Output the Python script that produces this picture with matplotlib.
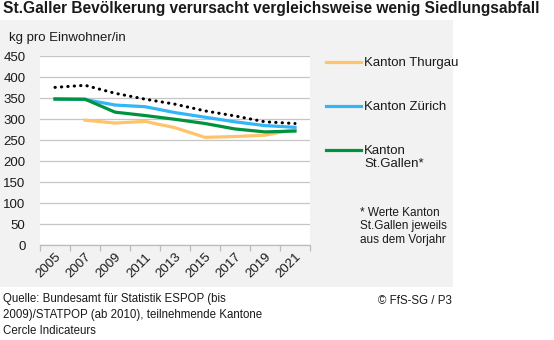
import matplotlib
matplotlib.use("Agg")
import matplotlib.pyplot as plt
from matplotlib.patches import Rectangle

plt.rcParams['font.family'] = ['Liberation Sans', 'DejaVu Sans']

years = [2005, 2007, 2009, 2011, 2013, 2015, 2017, 2019, 2021]
years_tg = [2007, 2009, 2011, 2013, 2015, 2017, 2019, 2021]
thurgau = [298, 291, 295, 280, 257, 259, 262, 276]
zuerich = [349, 347, 334, 330, 316, 305, 294, 285, 281]
stgallen = [348, 348, 317, 309, 300, 290, 277, 270, 272]
average = [376, 381, 362, 348, 336, 320, 308, 294, 290]

yticks = [0, 50, 100, 150, 200, 250, 300, 350, 400, 450]
xlabels = [2005, 2007, 2009, 2011, 2013, 2015, 2017, 2019, 2021]
major_ticks = [2004, 2006, 2008, 2010, 2012, 2014, 2016, 2018, 2020, 2022]

W, H = 554, 340
fig = plt.figure(figsize=(W / 100, H / 100), dpi=100)
fig.patch.set_facecolor('white')

def fx(x):
    return x / W

def fy(y):
    return 1 - y / H

FS = 9.5

# gray panel
bg = Rectangle((0, fy(287)), fx(453), (287 - 20) / H,
               transform=fig.transFigure, facecolor='#F2F2F2',
               edgecolor='none', zorder=-10)
fig.add_artist(bg)

ax = fig.add_axes([fx(40), fy(245.3), 270 / W, (245.3 - 56.3) / H])
ax.set_zorder(1)
ax.set_facecolor('white')

c_tg = '#FFC36B'
c_zh = '#33B6F7'
c_sg = '#00923F'

ax.plot(years, average, color='black', lw=2.2, linestyle=(0, (0.1, 2)),
        dash_capstyle='round', zorder=5)
ax.plot(years, zuerich, color=c_zh, lw=2.3, zorder=3, solid_joinstyle='round')
ax.plot(years_tg, thurgau, color=c_tg, lw=2.3, zorder=2, solid_joinstyle='round')
ax.plot(years, stgallen, color=c_sg, lw=2.3, zorder=4, solid_joinstyle='round')

ax.set_xlim(2004, 2022)
ax.set_ylim(0, 450)
ax.set_yticks(yticks)
ax.yaxis.grid(True, color='#C6C6C6', lw=0.9)
ax.set_axisbelow(True)
ax.tick_params(axis='y', length=0, pad=10.5, labelsize=FS, colors='#1a1a1a')
ax.set_xticks(major_ticks)
ax.set_xticklabels([''] * len(major_ticks))
ax.set_xticks(xlabels, minor=True)
ax.set_xticklabels([str(v) for v in xlabels], minor=True, rotation=45,
                   ha='right', rotation_mode='anchor', fontsize=FS, color='#1a1a1a')
ax.tick_params(axis='x', which='major', length=4, color='#BBBBBB', width=0.9)
ax.tick_params(axis='x', which='minor', length=0, pad=4)
for s in ['top', 'right', 'left']:
    ax.spines[s].set_visible(False)
ax.spines['bottom'].set_color('#BBBBBB')
ax.spines['bottom'].set_linewidth(0.9)

# title
fig.text(fx(3), fy(9), 'St.Galler Bevölkerung verursacht vergleichsweise wenig Siedlungsabfall',
         fontsize=11.2, fontweight='bold', ha='left', va='center', color='#1a1a1a')
fig.text(fx(9), fy(38), 'kg pro Einwohner/in', fontsize=FS, ha='left', va='center',
         color='#1a1a1a')

# legend
leg = [(62, c_tg, 'Kanton Thurgau'), (105.7, c_zh, 'Kanton Zürich'),
       (150, c_sg, 'Kanton\nSt.Gallen*')]
for y, c, t in leg:
    fig.add_artist(plt.Line2D([fx(326), fx(361)], [fy(y), fy(y)], color=c, lw=2.3,
                              transform=fig.transFigure))
    fig.text(fx(364), fy(y - 5), t, fontsize=FS, ha='left', va='top',
             linespacing=1.15, color='#1a1a1a')

fig.text(fx(360), fy(207), '* Werte Kanton\nSt.Gallen jeweils\naus dem Vorjahr',
         fontsize=8.5, ha='left', va='top', linespacing=1.15, color='#1a1a1a')

# footer
fig.text(fx(3), fy(293), 'Quelle: Bundesamt für Statistik ESPOP (bis\n2009)/STATPOP (ab 2010), teilnehmende Kantone\nCercle Indicateurs',
         fontsize=8.3, ha='left', va='top', linespacing=1.45, color='#1a1a1a')
fig.text(fx(452), fy(301), '© FfS-SG / P3', fontsize=8.3, ha='right', va='center',
         color='#1a1a1a')

fig.savefig('out.png', dpi=100, facecolor='white')
